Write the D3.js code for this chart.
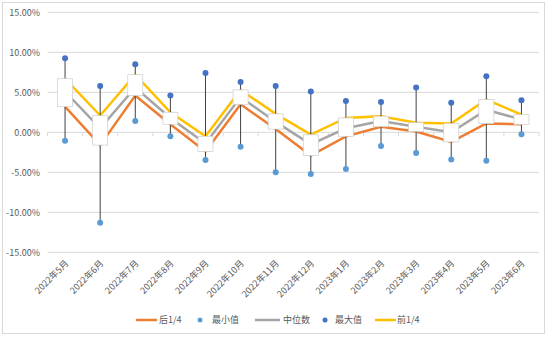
<!DOCTYPE html>
<html><head><meta charset="utf-8">
<script src="https://cdn.jsdelivr.net/npm/d3@7/dist/d3.min.js"></script>
<style>body{margin:0;background:#fff}svg{display:block}</style>
</head><body>
<svg id="c" width="554" height="337"></svg>
<script>
const categories = ["2022年5月","2022年6月","2022年7月","2022年8月","2022年9月","2022年10月","2022年11月","2022年12月","2023年1月","2023年2月","2023年3月","2023年4月","2023年5月","2023年6月"];
const lowerQuartile = [3.2, -1.6, 4.6, 1.0, -2.4, 3.5, 0.4, -2.9, -0.5, 0.7, 0.1, -1.2, 1.1, 1.0];
const minValue = [-1.05, -11.3, 1.4, -0.5, -3.45, -1.8, -5.0, -5.2, -4.6, -1.7, -2.6, -3.4, -3.55, -0.25];
const median = [5.1, 0.5, 5.6, 1.8, -1.4, 4.4, 1.3, -1.5, 0.5, 1.4, 0.7, 0.0, 2.8, 1.6];
const maxValue = [9.25, 5.8, 8.5, 4.6, 7.4, 6.3, 5.8, 5.1, 3.9, 3.8, 5.6, 3.7, 7.0, 4.0];
const upperQuartile = [6.7, 2.1, 7.2, 2.5, -0.5, 5.3, 2.3, -0.3, 1.8, 2.0, 1.2, 1.1, 4.1, 2.2];
const yTicks = [15, 10, 5, 0, -5, -10, -15];
const legendLabels = ["后1/4","最小值","中位数","最大值","前1/4"];

const svg = d3.select("#c");
const font = "'Microsoft YaHei','Noto Sans CJK SC','DejaVu Sans',sans-serif";
const colors = {lq:"#ED7D31", min:"#5B9BD5", med:"#A5A5A5", max:"#4472C4", uq:"#FFC000"};

svg.append("rect").attr("x",2.5).attr("y",2.5).attr("width",542).attr("height",331)
  .attr("fill","#fff").attr("stroke","#d9d9d9");

const x = d3.scaleBand().domain(categories).range([47.5, 539]);
const y = d3.scaleLinear().domain([-15, 15]).range([252.3, 12.3]);
const cx = d => x(d) + x.bandwidth()/2;

// gridlines
svg.append("g").selectAll("line").data(yTicks).join("line")
  .attr("x1",47.5).attr("x2",539).attr("y1",d=>y(d)).attr("y2",d=>y(d))
  .attr("stroke","#d9d9d9").attr("stroke-width",1);

// y axis labels
const yAxis = d3.axisLeft(y).tickValues(yTicks).tickSize(0).tickPadding(0)
  .tickFormat(d => d.toFixed(2) + "%");
const ga = svg.append("g").attr("transform","translate(40,0)").call(yAxis);
ga.select(".domain").remove();
ga.selectAll("text").attr("font-family",font).attr("font-size",9).attr("fill","#595959");

// category ticks on zero line
svg.append("g").selectAll("line").data(categories.concat([null])).join("line")
  .attr("x1",(d,i)=> i<categories.length ? x(d) : 539).attr("x2",(d,i)=> i<categories.length ? x(d) : 539)
  .attr("y1",y(0)).attr("y2",y(0)+4).attr("stroke","#d9d9d9");

// x labels
svg.append("g").selectAll("text").data(categories).join("text")
  .attr("transform", d => `translate(${cx(d)+4},${264}) rotate(-45)`)
  .attr("text-anchor","end").attr("font-family",font).attr("font-size",9).attr("fill","#595959")
  .text(d=>d);

// lines
const mk = arr => d3.line().x((d,i)=>cx(categories[i])).y(d=>y(d))(arr);
[[lowerQuartile,colors.lq],[median,colors.med],[upperQuartile,colors.uq]].forEach(([arr,c])=>{
  svg.append("path").attr("d",mk(arr)).attr("fill","none").attr("stroke",c)
    .attr("stroke-width",2.5).attr("stroke-linejoin","miter");
});

// high-low lines
svg.append("g").selectAll("line").data(categories).join("line")
  .attr("x1",d=>cx(d)).attr("x2",d=>cx(d))
  .attr("y1",(d,i)=>y(maxValue[i])).attr("y2",(d,i)=>y(minValue[i]))
  .attr("stroke","#404040").attr("stroke-width",1);

// up-down bars
const bw = 15;
svg.append("g").selectAll("rect").data(categories).join("rect")
  .attr("x",d=>cx(d)-bw/2).attr("width",bw)
  .attr("y",(d,i)=>y(Math.max(lowerQuartile[i],upperQuartile[i])))
  .attr("height",(d,i)=>Math.abs(y(lowerQuartile[i])-y(upperQuartile[i])))
  .attr("fill","#fff").attr("stroke","#d0d0d0").attr("stroke-width",0.75);

// dots
svg.append("g").selectAll("circle").data(categories).join("circle")
  .attr("cx",d=>cx(d)).attr("cy",(d,i)=>y(minValue[i])).attr("r",3).attr("fill",colors.min);
svg.append("g").selectAll("circle").data(categories).join("circle")
  .attr("cx",d=>cx(d)).attr("cy",(d,i)=>y(maxValue[i])).attr("r",3).attr("fill",colors.max);

// legend
const ly = 320;
const lg = svg.append("g").attr("font-family",font).attr("font-size",9).attr("fill","#595959");
const items = [
  {t:"line",c:colors.lq,x:136,w:21,tx:159},
  {t:"dot",c:colors.min,x:200,tx:212},
  {t:"line",c:colors.med,x:255,w:25,tx:283},
  {t:"dot",c:colors.max,x:325,tx:335},
  {t:"line",c:colors.uq,x:375,w:21,tx:397}
];
items.forEach((it,i)=>{
  if(it.t==="line"){
    lg.append("line").attr("x1",it.x).attr("x2",it.x+it.w).attr("y1",ly).attr("y2",ly)
      .attr("stroke",it.c).attr("stroke-width",2.5);
  } else {
    lg.append("circle").attr("cx",it.x).attr("cy",ly).attr("r",2.5).attr("fill",it.c);
  }
  lg.append("text").attr("x",it.tx).attr("y",ly+3).text(legendLabels[i]);
});
</script>
</body></html>
